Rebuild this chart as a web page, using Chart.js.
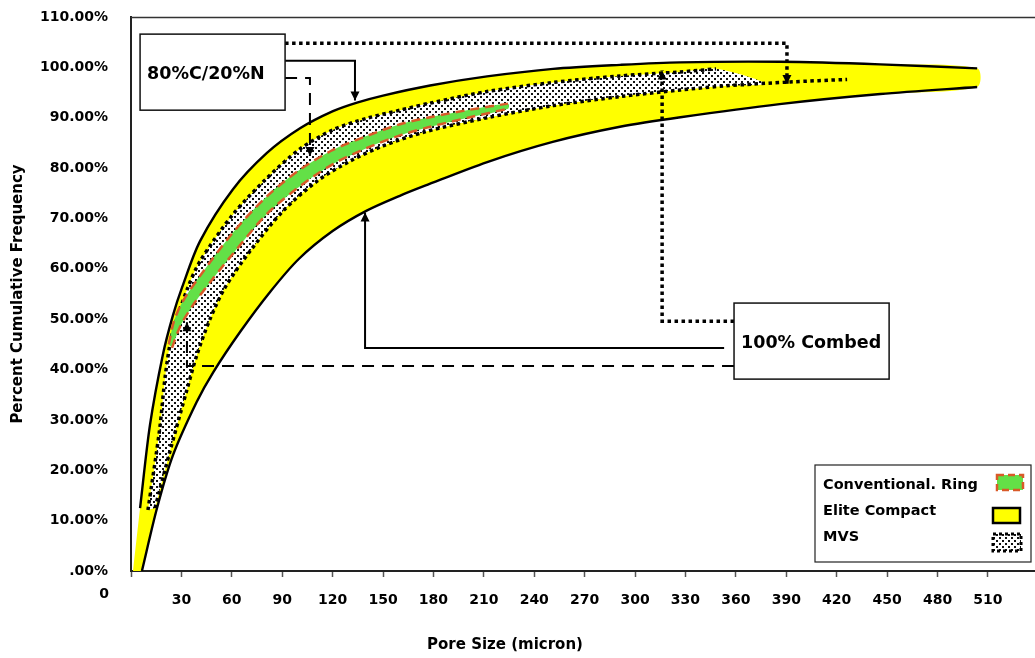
<!DOCTYPE html>
<html>
<head>
<meta charset="utf-8">
<script src="https://cdn.jsdelivr.net/npm/chart.js@4.4.1/dist/chart.umd.min.js"></script>
<style>
  html, body { margin: 0; padding: 0; background: #fff; overflow: hidden; }
  #c { display: block; }
</style>
</head>
<body>
<canvas id="c" width="1055" height="658"></canvas>
<script>
// Pore size (micron) vs. percent cumulative frequency for three spinning systems.

// Elite Compact band: upper and lower bounding curves
const eliteUpper = [
  {x: 5.4, y: 12.5}, {x: 11.3, y: 29.0}, {x: 19.0, y: 43.0}, {x: 25.0, y: 50.8},
  {x: 30.4, y: 56.3}, {x: 41.1, y: 65.5}, {x: 60.7, y: 75.8}, {x: 80.9, y: 83.0},
  {x: 100.6, y: 87.9}, {x: 120.2, y: 91.3}, {x: 134.5, y: 93.0}, {x: 150.0, y: 94.4},
  {x: 178.0, y: 96.4}, {x: 211.9, y: 98.2}, {x: 251.2, y: 99.7}, {x: 291.1, y: 100.5},
  {x: 326.8, y: 101.0}, {x: 386.3, y: 101.1}, {x: 445.8, y: 100.6}, {x: 503.6, y: 99.8}
];
const eliteLower = [
  {x: 6.5, y: 0}, {x: 15.5, y: 12.5}, {x: 25.0, y: 23.0}, {x: 39.0, y: 33.5},
  {x: 49.0, y: 39.5}, {x: 65.0, y: 47.5}, {x: 83.0, y: 55.5}, {x: 100.0, y: 62.0},
  {x: 120.0, y: 67.5}, {x: 140.0, y: 71.5}, {x: 160.0, y: 74.5}, {x: 175.0, y: 76.5},
  {x: 212.0, y: 81.2}, {x: 251.0, y: 85.2}, {x: 291.0, y: 88.2}, {x: 327.0, y: 90.1},
  {x: 386.0, y: 92.7}, {x: 446.0, y: 94.7}, {x: 503.6, y: 96.1}
];
const eliteFoot = {x: 1.2, y: 0};

// MVS band: dotted upper and lower curves
const mvsUpper = [
  {x: 10.1, y: 12.1}, {x: 17.0, y: 28.0}, {x: 20.5, y: 39.0}, {x: 24.5, y: 47.0},
  {x: 33.3, y: 55.8}, {x: 41.1, y: 61.5}, {x: 60.7, y: 70.8}, {x: 80.9, y: 78.0},
  {x: 100.6, y: 83.8}, {x: 120.2, y: 87.6}, {x: 140.5, y: 89.9}, {x: 160.1, y: 91.5},
  {x: 178.0, y: 92.9}, {x: 211.9, y: 95.2}, {x: 251.2, y: 97.0}, {x: 291.1, y: 98.3},
  {x: 326.8, y: 99.1}, {x: 348.2, y: 99.7}
];
const mvsLower = [
  {x: 14.3, y: 12.5}, {x: 23.2, y: 23.8}, {x: 33.3, y: 36.0}, {x: 39.3, y: 43.0},
  {x: 47.0, y: 50.0}, {x: 56.0, y: 56.3}, {x: 70.8, y: 63.5}, {x: 90.5, y: 71.5},
  {x: 110.7, y: 77.4}, {x: 130.4, y: 81.4}, {x: 150.0, y: 84.4}, {x: 175.0, y: 87.2},
  {x: 211.9, y: 90.0}, {x: 251.2, y: 92.4}, {x: 291.1, y: 94.2}, {x: 326.8, y: 95.5},
  {x: 353.0, y: 96.3}, {x: 392.3, y: 97.1}, {x: 426.2, y: 97.6}
];
const mvsTip = {x: 377.0, y: 96.8};

// Conventional ring band: dashed upper and lower curves
const convUpper = [
  {x: 22.5, y: 45.0}, {x: 25.5, y: 49.5}, {x: 30.4, y: 53.3}, {x: 41.1, y: 58.6},
  {x: 60.7, y: 67.2}, {x: 80.9, y: 74.4}, {x: 100.6, y: 79.7}, {x: 120.2, y: 83.6},
  {x: 140.5, y: 86.4}, {x: 160.1, y: 88.7}, {x: 178.0, y: 90.1}, {x: 201.8, y: 91.6},
  {x: 224.4, y: 92.8}
];
const convLower = [
  {x: 24.4, y: 44.3}, {x: 29.2, y: 48.5}, {x: 36.3, y: 52.5}, {x: 47.0, y: 57.3},
  {x: 60.7, y: 63.0}, {x: 80.9, y: 70.9}, {x: 100.6, y: 76.4}, {x: 120.2, y: 80.8},
  {x: 140.5, y: 84.0}, {x: 160.1, y: 86.5}, {x: 178.0, y: 88.2}, {x: 201.8, y: 90.1},
  {x: 224.4, y: 91.8}
];

// Axis ticks
const xTickValues = [30, 60, 90, 120, 150, 180, 210, 240, 270, 300, 330, 360, 390, 420, 450, 480, 510];
const yTickValues = [0, 10, 20, 30, 40, 50, 60, 70, 80, 90, 100, 110];

// Legend entries
const legendLabels = ['Conventional. Ring', 'Elite Compact', 'MVS'];

// Callout boxes and their leader lines (data units)
const calloutBoxes = [
  {text: '80%C/20%N', x0: 5.4, x1: 91.7, y0: 106.6, y1: 91.5},
  {text: '100% Combed', x0: 358.9, x1: 451.2, y0: 53.2, y1: 38.1}
];
const leaderLines = [
  {kind: 'solid',  pts: [[91.7, 101.3], [133.3, 101.3], [133.3, 93.4]]},
  {kind: 'dashed', pts: [[91.7, 97.9], [106.5, 97.9], [106.5, 82.4]]},
  {kind: 'dotted', pts: [[91.7, 104.8], [390.4, 104.8], [390.4, 96.7]]},
  {kind: 'solid',  pts: [[353.0, 44.3], [139.3, 44.3], [139.3, 71.2]]},
  {kind: 'dashed', pts: [[358.9, 40.7], [33.3, 40.7], [33.3, 49.4]]},
  {kind: 'dotted', pts: [[358.9, 49.6], [316.1, 49.6], [316.1, 99.4]]}
];

const FONT = "'DejaVu Sans', sans-serif";
const YELLOW = '#ffff00';
const GREEN = '#63e047';
const RED = '#d95a28';

// Stipple pattern used for the MVS band
function makeStipple() {
  const c = document.createElement('canvas');
  c.width = 6; c.height = 6;
  const g = c.getContext('2d');
  g.fillStyle = '#ffffff';
  g.fillRect(0, 0, 6, 6);
  g.fillStyle = '#111111';
  g.fillRect(0, 0, 2, 2);
  g.fillRect(3, 3, 2, 2);
  return g.createPattern(c, 'repeat');
}
const stipple = makeStipple();

// Closed outlines for the filled bands
const elitePolygon = [eliteFoot, ...eliteUpper, ...eliteLower.slice().reverse()];
const mvsPolygon = [...mvsUpper, mvsTip, ...mvsLower.filter(p => p.x < mvsTip.x).reverse()];
const convPolygon = [...convUpper, ...convLower.slice().reverse()];

const noLine = 'rgba(0,0,0,0)';

function drawArrowHead(ctx, x0, y0, x1, y1) {
  const ang = Math.atan2(y1 - y0, x1 - x0);
  const len = 9, half = 4.5;
  ctx.save();
  ctx.setLineDash([]);
  ctx.fillStyle = '#000';
  ctx.beginPath();
  ctx.moveTo(x1, y1);
  ctx.lineTo(x1 - len * Math.cos(ang) + half * Math.sin(ang), y1 - len * Math.sin(ang) - half * Math.cos(ang));
  ctx.lineTo(x1 - len * Math.cos(ang) - half * Math.sin(ang), y1 - len * Math.sin(ang) + half * Math.cos(ang));
  ctx.closePath();
  ctx.fill();
  ctx.restore();
}

// Plot frame top edge, callouts, legend, x-axis title and corner label
const decorations = {
  id: 'decorations',
  afterDraw(chart) {
    const ctx = chart.ctx;
    const xs = chart.scales.x, ys = chart.scales.y;
    const area = chart.chartArea;
    const px = v => xs.getPixelForValue(v);
    const py = v => ys.getPixelForValue(v);

    ctx.save();
    // top edge of the plot frame
    ctx.strokeStyle = '#333';
    ctx.lineWidth = 1.5;
    ctx.beginPath();
    ctx.moveTo(area.left, area.top + 0.5);
    ctx.lineTo(area.right, area.top + 0.5);
    ctx.stroke();

    // leader lines
    leaderLines.forEach(l => {
      ctx.strokeStyle = '#000';
      ctx.lineCap = 'butt';
      if (l.kind === 'solid') { ctx.lineWidth = 2; ctx.setLineDash([]); }
      if (l.kind === 'dashed') { ctx.lineWidth = 2; ctx.setLineDash([12, 8]); }
      if (l.kind === 'dotted') { ctx.lineWidth = 3.5; ctx.setLineDash([3.5, 3.5]); }
      const p = l.pts.map(q => [px(q[0]), py(q[1])]);
      ctx.beginPath();
      ctx.moveTo(p[0][0], p[0][1]);
      for (let i = 1; i < p.length; i++) ctx.lineTo(p[i][0], p[i][1]);
      ctx.stroke();
      const n = p.length;
      drawArrowHead(ctx, p[n - 2][0], p[n - 2][1], p[n - 1][0], p[n - 1][1]);
    });

    // callout boxes
    ctx.setLineDash([]);
    calloutBoxes.forEach(b => {
      const x0 = px(b.x0), x1 = px(b.x1), y0 = py(b.y0), y1 = py(b.y1);
      ctx.fillStyle = '#fff';
      ctx.fillRect(x0, y0, x1 - x0, y1 - y0);
      ctx.strokeStyle = '#111';
      ctx.lineWidth = 1.5;
      ctx.strokeRect(x0, y0, x1 - x0, y1 - y0);
      ctx.fillStyle = '#000';
      ctx.font = 'bold 17.5px ' + FONT;
      ctx.textAlign = 'left';
      ctx.textBaseline = 'middle';
      ctx.fillText(b.text, x0 + 7, (y0 + y1) / 2 + 2);
    });

    // legend
    const lx = area.right - 225, ly = area.bottom - 106, lw = 216, lh = 97;
    ctx.fillStyle = '#fff';
    ctx.fillRect(lx, ly, lw, lh);
    ctx.strokeStyle = '#222';
    ctx.lineWidth = 1.2;
    ctx.strokeRect(lx, ly, lw, lh);
    ctx.fillStyle = '#000';
    ctx.font = 'bold 14.5px ' + FONT;
    ctx.textAlign = 'left';
    ctx.textBaseline = 'middle';
    legendLabels.forEach((t, i) => ctx.fillText(t, lx + 8, ly + 20 + i * 26));
    // conventional swatch
    ctx.fillStyle = GREEN;
    ctx.fillRect(lx + 182, ly + 10, 26, 15);
    ctx.strokeStyle = RED; ctx.lineWidth = 2.5; ctx.setLineDash([7, 4]);
    ctx.strokeRect(lx + 182, ly + 10, 26, 15);
    // elite swatch
    ctx.setLineDash([]);
    ctx.fillStyle = YELLOW;
    ctx.fillRect(lx + 178, ly + 43, 27, 15);
    ctx.strokeStyle = '#000'; ctx.lineWidth = 2.5;
    ctx.strokeRect(lx + 178, ly + 43, 27, 15);
    // mvs swatch
    ctx.fillStyle = stipple;
    ctx.fillRect(lx + 178, ly + 69, 28, 17);
    ctx.strokeStyle = '#000'; ctx.lineWidth = 3; ctx.setLineDash([3, 3]);
    ctx.strokeRect(lx + 178, ly + 69, 28, 17);
    ctx.setLineDash([]);

    // x-axis title and origin label
    ctx.fillStyle = '#000';
    ctx.font = 'bold 15px ' + FONT;
    ctx.textAlign = 'center';
    ctx.textBaseline = 'middle';
    ctx.fillText('Pore Size (micron)', area.left + 374, 645);
    ctx.font = 'bold 14px ' + FONT;
    ctx.fillText('0', area.left - 27, 594);
    ctx.restore();
  }
};

const lineBase = {pointRadius: 0, pointHoverRadius: 0, tension: 0.3, fill: false, showLine: true};

new Chart(document.getElementById('c'), {
  type: 'line',
  data: {
    datasets: [
      Object.assign({}, lineBase, {label: 'Elite Compact', data: elitePolygon, fill: 'shape',
        backgroundColor: YELLOW, borderColor: noLine, borderWidth: 0, order: 10}),
      Object.assign({}, lineBase, {label: 'Elite upper', data: eliteUpper,
        borderColor: '#000', borderWidth: 2.4, order: 9}),
      Object.assign({}, lineBase, {label: 'Elite lower', data: eliteLower,
        borderColor: '#000', borderWidth: 2.4, order: 9}),
      Object.assign({}, lineBase, {label: 'MVS', data: mvsPolygon, fill: 'shape',
        backgroundColor: stipple, borderColor: noLine, borderWidth: 0, order: 8}),
      Object.assign({}, lineBase, {label: 'MVS upper', data: mvsUpper,
        borderColor: '#000', borderWidth: 3.5, borderDash: [3.5, 3.5], order: 7}),
      Object.assign({}, lineBase, {label: 'MVS lower', data: mvsLower,
        borderColor: '#000', borderWidth: 3.5, borderDash: [3.5, 3.5], order: 7}),
      Object.assign({}, lineBase, {label: 'Conventional. Ring', data: convPolygon, fill: 'shape',
        backgroundColor: GREEN, borderColor: noLine, borderWidth: 0, order: 6}),
      Object.assign({}, lineBase, {label: 'Conventional upper', data: convUpper,
        borderColor: RED, borderWidth: 2.5, borderDash: [9, 6], order: 5}),
      Object.assign({}, lineBase, {label: 'Conventional lower', data: convLower,
        borderColor: RED, borderWidth: 2.5, borderDash: [9, 6], order: 5})
    ]
  },
  options: {
    responsive: false,
    animation: false,
    events: [],
    layout: {padding: {left: 0, top: 17, right: 15, bottom: 0}},
    plugins: {legend: {display: false}, tooltip: {enabled: false}, title: {display: false}},
    scales: {
      x: {
        type: 'linear', position: 'bottom', min: 0, max: 541,
        afterFit: s => { s.height = 87; },
        afterBuildTicks: s => { s.ticks = [0, ...xTickValues].map(v => ({value: v})); },
        border: {display: true, color: '#222', width: 2},
        grid: {display: true, drawOnChartArea: false, drawTicks: true, tickLength: 6, color: '#555', tickWidth: 1.5},
        ticks: {
          autoSkip: false, maxRotation: 0, padding: 15, color: '#000',
          font: {family: FONT, size: 14, weight: 'bold'},
          callback: v => (v === 0 ? '' : String(v))
        },
        title: {display: false}
      },
      y: {
        type: 'linear', position: 'left', min: 0, max: 110,
        afterFit: s => { s.width = 131; s.paddingTop = 0; s.paddingBottom = 0; },
        afterBuildTicks: s => { s.ticks = yTickValues.map(v => ({value: v})); },
        border: {display: true, color: '#222', width: 2},
        grid: {display: false, drawTicks: false},
        ticks: {
          padding: 23, color: '#000',
          font: {family: FONT, size: 14, weight: 'bold'},
          callback: v => (v === 0 ? '.00%' : v.toFixed(2) + '%')
        },
        title: {
          display: true, text: 'Percent Cumulative Frequency', color: '#000',
          font: {family: FONT, size: 15, weight: 'bold'},
          padding: {top: 9, bottom: 0}
        }
      }
    }
  },
  plugins: [decorations]
});
</script>
</body>
</html>
